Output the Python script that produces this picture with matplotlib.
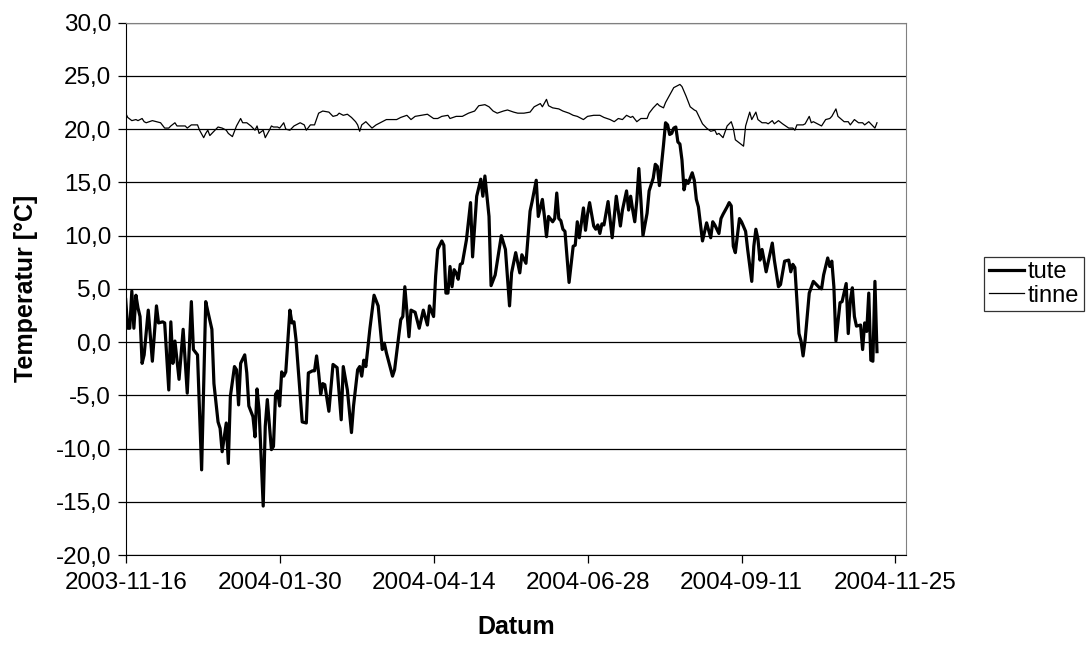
import pandas as pd
import matplotlib
matplotlib.use('Agg')
import matplotlib.pyplot as plt
import matplotlib.dates as mdates
from matplotlib.ticker import FuncFormatter, MultipleLocator

plt.rcParams['font.family'] = ['Liberation Sans', 'DejaVu Sans']

# Startdatum der Messreihe
start = pd.Timestamp('2003-11-16')

# tute (aussen) - Tag seit Start, Temperatur
tute_day = [0, 1, 2, 3, 4, 5, 6, 7, 8, 9, 11, 13, 15, 16, 18, 19, 21, 22, 23, 24, 26, 28, 30, 32, 33, 35, 37, 39, 40, 42,
            43, 45, 46, 47, 49, 50, 51, 53, 54, 55, 56, 58, 59, 60, 62, 63, 64, 65, 67, 68, 69, 71, 72, 73, 74, 75, 76, 77,
            78, 80, 81, 82, 83, 86, 88, 89, 91, 92, 93, 94, 95, 96, 97, 99, 101, 103, 105, 106, 108, 110, 111, 113, 114,
            115, 116, 117, 119, 121, 123, 125, 126, 127, 130, 131, 134, 135, 136, 138, 139, 141, 143, 145, 147, 148, 150,
            151, 152, 154, 155, 156, 157, 158, 159, 160, 161, 162, 163, 164, 166, 168, 169, 171, 172, 173, 174, 175, 177,
            178, 180, 183, 185, 187, 188, 190, 192, 193, 195, 197, 198, 200, 201, 203, 204, 205, 206, 208, 209, 210, 211,
            212, 213, 214, 216, 218, 219, 220, 221, 223, 224, 225, 226, 228, 229, 230, 231, 232, 233, 235, 237, 239, 241,
            242, 244, 245, 246, 247, 248, 249, 250, 251, 252, 254, 255, 257, 258, 259, 260, 262, 263, 264, 265, 266, 267,
            268, 269, 270, 271, 272, 273, 274, 276, 277, 278, 279, 281, 283, 285, 286, 287, 289, 290, 291, 293, 294, 295,
            296, 297, 298, 299, 300, 302, 303, 305, 306, 307, 308, 309, 310, 311, 312, 314, 315, 316, 318, 319, 321, 323,
            324, 325, 326, 328, 329, 330, 331, 333, 335, 336, 338, 339, 340, 342, 343, 344, 345, 346, 348, 349, 351, 352,
            353, 354, 355, 356, 358, 359, 360, 361, 362, 363, 364, 365, 366]
tute_temp = [4.0, 1.3, 1.3, 4.8, 1.3, 4.4, 3.2, 2.4, -2.0, -1.2, 3.0, -1.8, 3.4, 1.8, 1.9, 1.8, -4.5, 1.9, -2.0, 0.1,
             -3.5, 1.2, -4.8, 3.8, -0.7, -1.2, -12.0, 3.8, 2.9, 1.2, -3.9, -7.5, -8.1, -10.3, -7.6, -11.4, -5.1, -2.3,
             -2.6, -5.9, -2.0, -1.2, -2.9, -6.0, -7.0, -8.9, -4.4, -6.4, -15.4, -7.9, -5.4, -10.1, -9.8, -4.9, -4.6,
             -6.0, -2.8, -3.2, -2.8, 3.0, 1.8, 1.9, 0.2, -7.5, -7.6, -2.9, -2.7, -2.7, -1.3, -2.9, -4.9, -3.9, -4.0,
             -6.5, -2.1, -2.4, -7.3, -2.3, -4.5, -8.5, -6.0, -2.6, -2.3, -3.2, -1.7, -2.3, 1.3, 4.4, 3.4, -0.7, -0.1,
             -1.0, -3.2, -2.6, 2.1, 2.4, 5.2, 0.5, 3.0, 2.8, 1.3, 3.0, 1.6, 3.4, 2.4, 6.2, 8.7, 9.5, 9.1, 4.6, 4.6, 7.1,
             5.2, 6.8, 6.5, 5.9, 7.3, 7.4, 9.6, 13.1, 8.0, 13.7, 14.5, 15.3, 13.7, 15.6, 11.8, 5.3, 6.3, 10.0, 8.7, 3.4,
             6.5, 8.4, 6.5, 8.2, 7.4, 12.3, 13.2, 15.2, 11.8, 13.4, 11.8, 9.9, 11.8, 11.3, 11.6, 14.0, 11.6, 11.4, 10.6,
             10.4, 5.6, 9.0, 9.1, 11.3, 9.8, 12.6, 10.5, 12.0, 13.1, 10.9, 10.6, 11.0, 10.2, 11.1, 11.0, 13.2, 9.8,
             13.7, 10.9, 12.4, 14.2, 12.4, 13.7, 12.4, 11.3, 13.3, 16.3, 13.3, 10.0, 12.1, 14.2, 15.4, 16.7, 16.5, 14.7,
             18.5, 20.6, 20.4, 19.5, 19.6, 20.1, 20.2, 18.8, 18.6, 17.1, 14.3, 15.2, 14.9, 15.9, 15.2, 13.4, 12.7, 9.5,
             11.2, 9.8, 11.3, 11.0, 10.2, 11.6, 12.0, 12.7, 13.1, 12.8, 9.0, 8.4, 10.0, 11.6, 11.3, 10.4, 8.7, 5.7,
             9.0, 10.6, 9.7, 7.7, 8.7, 7.7, 6.6, 8.4, 9.3, 7.7, 5.2, 5.4, 7.6, 7.7, 6.6, 7.3, 7.0, 0.8, 0.1, -1.3, 0.2,
             4.6, 5.7, 5.5, 5.1, 5.0, 6.3, 7.9, 7.1, 7.6, 5.2, 0.1, 3.7, 3.8, 5.5, 0.8, 3.9, 5.1, 2.4, 1.5, 1.6, -0.7,
             1.8, 1.0, 4.6, -1.7, -1.8, 5.7, -0.9]

# tinne (innen)
tinne_day = [0, 1, 3, 5, 6, 8, 9, 10, 13, 15, 17, 19, 21, 22, 24, 25, 27, 29, 30, 32, 35, 36, 38, 39, 40, 41, 43, 45,
             47, 49, 50, 52, 53, 54, 56, 57, 59, 61, 63, 64, 65, 67, 68, 70, 71, 72, 74, 75, 77, 78, 80, 82, 85, 87,
             88, 90, 92, 94, 96, 99, 101, 103, 104, 106, 108, 110, 112, 113, 114, 115, 117, 119, 120, 122, 125, 127,
             129, 132, 134, 137, 139, 141, 144, 147, 150, 152, 154, 157, 158, 161, 164, 167, 170, 172, 175, 177, 179,
             181, 184, 186, 189, 191, 194, 197, 199, 202, 203, 205, 206, 208, 211, 213, 216, 218, 220, 223, 225, 228,
             231, 233, 236, 238, 240, 242, 244, 246, 247, 249, 251, 254, 255, 257, 259, 260, 262, 263, 265, 267, 270,
             271, 273, 275, 277, 278, 280, 281, 283, 285, 287, 288, 289, 291, 293, 295, 296, 297, 299, 301, 302, 304,
             305, 307, 308, 310, 312, 313, 315, 316, 318, 320, 323, 325, 326, 327, 330, 331, 333, 334, 335, 337, 339,
             341, 343, 344, 346, 347, 350, 352, 353, 355, 357, 359, 360, 362, 363, 365, 366]
tinne_temp = [21.5, 21.1, 20.8, 20.9, 20.8, 21.0, 20.7, 20.6, 20.8, 20.7, 20.6, 20.1, 20.1, 20.3, 20.6, 20.3, 20.3,
              20.3, 20.1, 20.4, 20.4, 19.9, 19.2, 19.6, 19.9, 19.4, 19.8, 20.2, 20.1, 19.9, 19.6, 19.3, 19.8, 20.3,
              21.0, 20.6, 20.6, 20.3, 19.9, 20.3, 19.6, 19.9, 19.2, 19.9, 20.3, 20.2, 20.2, 20.1, 20.6, 20.0, 19.9,
              20.3, 20.6, 20.4, 19.9, 20.4, 20.4, 21.5, 21.7, 21.6, 21.2, 21.3, 21.5, 21.3, 21.4, 21.1, 20.7, 20.4,
              19.8, 20.4, 20.7, 20.3, 20.1, 20.4, 20.7, 20.9, 20.9, 20.9, 21.1, 21.3, 20.9, 21.2, 21.3, 21.4, 21.0,
              21.0, 21.2, 21.3, 21.0, 21.2, 21.2, 21.5, 21.7, 22.2, 22.3, 22.1, 21.7, 21.5, 21.7, 21.8, 21.6, 21.5,
              21.5, 21.6, 22.1, 22.4, 22.1, 22.8, 22.2, 22.0, 21.9, 21.7, 21.5, 21.3, 21.2, 20.9, 21.2, 21.3, 21.3,
              21.1, 20.9, 20.7, 21.0, 20.9, 21.3, 21.1, 21.2, 20.7, 21.0, 21.0, 21.5, 22.0, 22.4, 22.2, 22.0, 22.5,
              23.2, 23.9, 24.2, 24.0, 23.1, 22.1, 21.8, 21.7, 20.9, 20.5, 20.1, 19.8, 19.9, 19.5, 19.6, 19.2, 20.3,
              20.7, 20.1, 19.0, 18.7, 18.4, 20.3, 21.6, 20.9, 21.6, 20.9, 20.6, 20.6, 20.5, 20.8, 20.5, 20.8, 20.5,
              20.1, 20.1, 19.9, 20.4, 20.4, 20.5, 21.2, 20.6, 20.7, 20.5, 20.3, 20.9, 21.0, 21.2, 21.9, 21.2, 20.7,
              20.7, 20.4, 20.9, 20.6, 20.6, 20.4, 20.7, 20.5, 20.1, 20.6]

tute_dates = start + pd.to_timedelta(tute_day, unit='D')
tinne_dates = start + pd.to_timedelta(tinne_day, unit='D')

fig = plt.figure(figsize=(10.89, 6.48), dpi=100)
ax = fig.add_axes([0.1154, 0.1435, 0.7163, 0.8215])

ax.plot(tute_dates, tute_temp, color='black', lw=2.3, label='tute', solid_joinstyle='round')
ax.plot(tinne_dates, tinne_temp, color='black', lw=0.9, label='tinne')

# Achsen
ax.set_ylim(-20, 30)
ax.yaxis.set_major_locator(MultipleLocator(5))
ax.yaxis.set_major_formatter(FuncFormatter(lambda v, p: f'{v:.1f}'.replace('.', ',')))
ax.set_xlim(start, start + pd.Timedelta(days=380))
xt = [start + pd.Timedelta(days=75 * i) for i in range(6)]
ax.set_xticks(xt)
ax.xaxis.set_major_formatter(mdates.DateFormatter('%Y-%m-%d'))

ax.grid(axis='y', color='black', lw=0.9)
ax.set_axisbelow(True)
for s in ['top', 'right']:
    ax.spines[s].set_color('#808080')
for s in ['left', 'bottom']:
    ax.spines[s].set_color('black')
ax.tick_params(direction='out', length=5.5, width=0.9, labelsize=17.5, pad=5)
ax.tick_params(axis='x', pad=7)

ax.set_ylabel('Temperatur [°C]', fontsize=18, fontweight='bold', labelpad=13)
ax.set_xlabel('Datum', fontsize=18, fontweight='bold', labelpad=15)

leg = fig.legend(loc='center left', bbox_to_anchor=(984 / 1089, 1 - 284 / 648), fontsize=17,
                 frameon=True, fancybox=False, edgecolor='black', handlelength=1.5, handletextpad=0.15,
                 borderpad=0.2, labelspacing=0.05, borderaxespad=0)
leg.get_frame().set_linewidth(0.9)

fig.savefig('out.png', dpi=100)
